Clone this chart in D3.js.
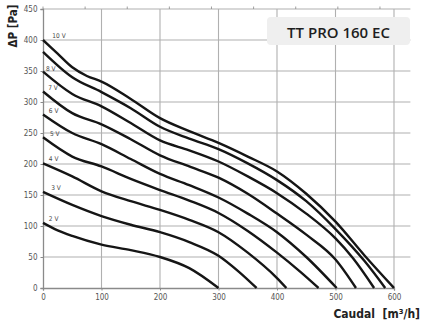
<!DOCTYPE html>
<html><head><meta charset="utf-8">
<script src="https://cdn.jsdelivr.net/npm/d3@7"></script>
<style>body{margin:0;background:#fff}svg{display:block}</style>
</head><body>
<svg id="c" width="422" height="326"></svg>
<script>
const xTicks = [0,100,200,300,400,500,600];
const yTicks = [0,50,100,150,200,250,300,350,400,450];
const topTicksLs = [0,20,40,60,80,100,120,140,160]; // l/s (x3.6 = m3/h)
const seriesNames = ["2 V","3 V","4 V","5 V","6 V","7 V","8 V","9 V","10 V"];
const s2V  = [[0,105],[25,93],[50,84],[100,70],[150,61],[200,50],[250,32],[300,0]];
const s3V  = [[0,155],[50,134],[100,116],[150,102],[200,90],[250,74],[300,52],[335,26],[365,0]];
const s4V  = [[0,201],[50,180],[100,156],[150,140],[200,126],[250,110],[300,90],[350,57],[400,16],[416,0]];
const s5V  = [[0,243],[50,212],[100,196],[150,176],[200,158],[250,141],[300,121],[350,92],[400,57],[440,26],[471,0]];
const s6V  = [[0,280],[50,250],[100,232],[150,208],[200,184],[250,166],[300,146],[350,120],[400,90],[450,50],[502,0]];
const s7V  = [[0,317],[50,282],[100,264],[150,240],[200,214],[250,196],[300,178],[350,152],[400,120],[450,86],[500,46],[535,0]];
const s8V  = [[0,349],[50,313],[100,293],[150,266],[200,238],[250,222],[300,204],[350,180],[400,153],[450,120],[500,80],[530,48],[566,0]];
const s9V  = [[0,381],[50,340],[100,316],[150,290],[200,260],[250,241],[300,224],[350,201],[400,174],[450,140],[500,95],[550,43],[585,0]];
const s10V = [[0,400],[25,378],[50,356],[75,342],[100,333],[150,305],[200,274],[250,253],[300,234],[350,212],[400,188],[450,152],[500,107],[550,52],[600,0]];
const seriesData = [s2V,s3V,s4V,s5V,s6V,s7V,s8V,s9V,s10V];
const labelText = ["2 V","3 V","4 V","5 V","6 V","7 V","8 V","10 V"];
const labelX = [10,14,10,12,10,9,5,16];
const labelY = [106,157,203,243,280,317,348,401];
const title = "TT PRO 160 EC";

const svg = d3.select("#c");
const x = d3.scaleLinear().domain([0,600]).range([43,394]);
const y = d3.scaleLinear().domain([0,450]).range([288,9]);
const xEnd = x(628);

const g = svg.append("g");
g.selectAll("line.h").data(yTicks.filter(d=>d>0)).join("line")
  .attr("x1",x(0)).attr("x2",xEnd).attr("y1",d=>y(d)).attr("y2",d=>y(d))
  .attr("stroke","#b0b0b0").attr("stroke-width",1.1);
g.selectAll("line.v").data(xTicks.filter(d=>d>0)).join("line")
  .attr("x1",d=>x(d)).attr("x2",d=>x(d)).attr("y1",y(0)).attr("y2",y(450))
  .attr("stroke","#b0b0b0").attr("stroke-width",1.1);
g.selectAll("line.t").data(topTicksLs).join("line")
  .attr("x1",d=>x(d*3.6)).attr("x2",d=>x(d*3.6)).attr("y1",y(450)).attr("y2",y(450)-2.5)
  .attr("stroke","#888").attr("stroke-width",0.8);

const yAxis = d3.axisLeft(y).tickValues(yTicks).tickSize(2.5).tickPadding(3);
const xAxis = d3.axisBottom(x).tickValues(xTicks).tickSize(2.5).tickPadding(4);
const ya = svg.append("g").attr("transform",`translate(${x(0)},0)`).call(yAxis);
const xa = svg.append("g").attr("transform",`translate(0,${y(0)})`).call(xAxis);
[ya,xa].forEach(a=>{
  a.select(".domain").attr("stroke","#8a8a8a").attr("stroke-width",1.3);
  a.selectAll(".tick line").attr("stroke","#8a8a8a");
  a.selectAll("text").attr("fill","#555").style("font-family","'Liberation Sans Narrow','DejaVu Sans Condensed',sans-serif").style("font-size","8px");
});

const line = d3.line().x(d=>x(d[0])).y(d=>y(d[1])).curve(d3.curveMonotoneX);
svg.append("g").selectAll("path").data(seriesData).join("path")
  .attr("d",line).attr("fill","none").attr("stroke","#151515").attr("stroke-width",2.4);

svg.append("g").selectAll("text").data(labelText).join("text")
  .attr("x",(d,i)=>x(labelX[i])).attr("y",(d,i)=>y(labelY[i])-1)
  .text(d=>d).attr("fill","#444")
  .style("font-family","'Liberation Sans Narrow','DejaVu Sans Condensed',sans-serif").style("font-size","6.5px");

svg.append("text").attr("transform","translate(17,26) rotate(-90)").attr("text-anchor","middle")
  .text("ΔP [Pa]").attr("fill","#222")
  .style("font-family","'Liberation Sans Narrow','DejaVu Sans Condensed',sans-serif").style("font-weight","bold").style("font-size","11.5px");
svg.append("text").attr("x",420).attr("y",318).attr("text-anchor","end")
  .attr("fill","#222").attr("xml:space","preserve")
  .style("font-family","'Liberation Sans Narrow','DejaVu Sans Condensed',sans-serif").style("font-weight","bold").style("font-size","12px")
  .text("Caudal  [m³/h]");

svg.append("rect").attr("x",267).attr("y",17).attr("width",143).attr("height",28).attr("rx",4)
  .attr("fill","#efefef");
svg.append("text").attr("x",338.5).attr("y",37.5).attr("text-anchor","middle").text(title)
  .attr("fill","#1e1e1e").style("font-family","'Open Sans',sans-serif").style("font-weight","600").style("font-size","15px");
</script>
</body></html>
